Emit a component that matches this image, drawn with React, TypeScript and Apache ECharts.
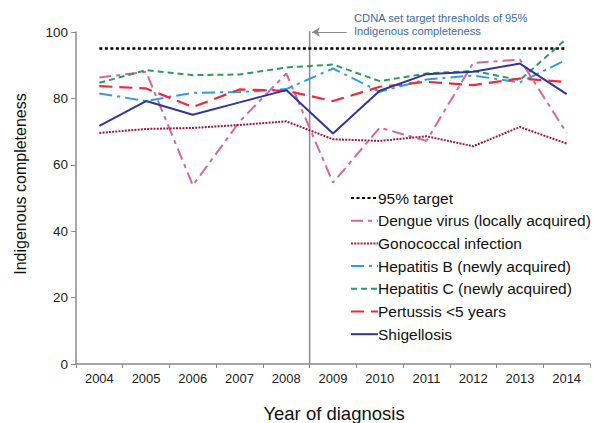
import React, { useEffect, useRef } from "react";
import * as echarts from "echarts";

const years = ["2004", "2005", "2006", "2007", "2008", "2009", "2010", "2011", "2012", "2013", "2014"];
const target = [95, 95, 95, 95, 95, 95, 95, 95, 95, 95, 95];
const dengue = [86.3, 88, 53.8, 73, 87.5, 54.6, 71.2, 67.2, 90.7, 91.7, 69.6];
const gonococcal = [69.6, 70.8, 71.1, 72, 73.1, 67.7, 67.2, 68.6, 65.6, 71.4, 66.4];
const hepB = [81.5, 79.2, 81.7, 81.9, 82.8, 89, 82, 85.7, 86.9, 84.8, 91.7];
const hepC = [84.7, 88.5, 87, 87.2, 89.3, 90.2, 85.2, 87.5, 88.3, 85.5, 98];
const pertussis = [83.7, 83, 77.4, 82.7, 82.3, 79.2, 83.5, 85, 84, 86, 84.9];
const shigellosis = [71.7, 79.2, 75.1, 78.8, 82.5, 69.4, 82.3, 87.3, 88, 90.5, 81.3];
const yTicks = { min: 0, max: 100, interval: 20 };
const dividerIndex = 4.5;
const arrowStart = 5.29;
const arrowY = 100;
const annotation = ["CDNA set target thresholds of 95%", "Indigenous completeness"];

const FONT = "'Liberation Sans', Arial, sans-serif";

export default function App() {
  const ref = useRef<HTMLDivElement>(null);
  useEffect(() => {
    if (!ref.current) return;
    const chart = echarts.init(ref.current, undefined, { renderer: "svg" });
    const mk = (name: string, data: number[], color: string, type: any, width = 2) => ({
      name,
      type: "line",
      data,
      symbol: "none",
      xAxisIndex: 0,
      yAxisIndex: 0,
      lineStyle: { color, type, width },
      itemStyle: { color },
      z: 3,
    });
    chart.setOption({
      animation: false,
      textStyle: { fontFamily: FONT },
      grid: { left: 76, right: 6, top: 32, bottom: 59, containLabel: false },
      xAxis: [
        {
          type: "category",
          data: years,
          boundaryGap: true,
          axisLine: { lineStyle: { color: "#8a8a8a", width: 1.5 } },
          axisTick: { show: true, length: 4, lineStyle: { color: "#8a8a8a" } },
          axisLabel: { color: "#222", fontSize: 13, margin: 8, fontFamily: FONT, interval: 0 },
          splitLine: { show: false },
        },
        {
          type: "value",
          min: -0.5,
          max: 10.5,
          show: false,
          axisLine: { onZero: false },
        },
      ],
      yAxis: {
        type: "value",
        min: yTicks.min,
        max: yTicks.max,
        interval: yTicks.interval,
        axisLine: { show: true, onZero: false, lineStyle: { color: "#8a8a8a", width: 1.5 } },
        axisTick: { show: true, length: 5, lineStyle: { color: "#8a8a8a" } },
        axisLabel: { color: "#222", fontSize: 13.5, margin: 8, fontFamily: FONT },
        splitLine: { show: false },
      },
      legend: {
        orient: "vertical",
        left: 345,
        top: 185,
        itemWidth: 27,
        itemHeight: 14,
        itemGap: 6.7,
        itemStyle: { opacity: 0 },
        textStyle: {
          fontSize: 15.5,
          lineHeight: 16,
          color: "#111",
          fontFamily: FONT,
          padding: [0, 0, 0, -5],
        },
        data: [
          "95% target",
          "Dengue virus (locally acquired)",
          "Gonococcal infection",
          "Hepatitis B (newly acquired)",
          "Hepatitis C (newly acquired)",
          "Pertussis <5 years",
          "Shigellosis",
        ],
      },
      graphic: [
        {
          type: "text",
          left: 354,
          top: 11,
          style: {
            text: annotation.join("\n"),
            fill: "#3e69ae",
            font: `11.2px ${FONT}`,
            lineHeight: 13,
          },
        },
        {
          type: "text",
          x: 20,
          y: 184,
          rotation: Math.PI / 2,
          style: {
            text: "Indigenous completeness",
            fill: "#111",
            font: `16px ${FONT}`,
            align: "center",
            verticalAlign: "middle",
          },
        },
        {
          type: "text",
          x: 334,
          y: 413.5,
          style: {
            text: "Year of diagnosis",
            fill: "#111",
            font: `18.5px ${FONT}`,
            align: "center",
            verticalAlign: "middle",
          },
        },
      ],
      series: [
        {
          name: "divider",
          type: "line",
          xAxisIndex: 1,
          yAxisIndex: 0,
          data: [
            [dividerIndex, 101.2],
            [dividerIndex, 0],
          ],
          symbol: "none",
          lineStyle: { color: "#8a8a8a", width: 1.5 },
          z: 1,
          markLine: {
            silent: true,
            symbol: ["none", "arrow"],
            symbolSize: [7, 8],
            label: { show: false },
            lineStyle: { color: "#8a8a8a", width: 1, type: "solid" },
            data: [[{ coord: [arrowStart, arrowY] }, { coord: [dividerIndex + 0.05, arrowY] }]],
          },
        },
        mk("95% target", target, "#000000", [3, 2.5], 2.5),
        mk("Dengue virus (locally acquired)", dengue, "#d5669f", [12, 5, 4, 5], 2),
        mk("Gonococcal infection", gonococcal, "#9a1d3c", [2, 1.2], 2),
        mk("Hepatitis B (newly acquired)", hepB, "#2f9edb", [13, 5, 3, 5], 2),
        mk("Hepatitis C (newly acquired)", hepC, "#2f9a5b", [6, 4], 2),
        mk("Pertussis <5 years", pertussis, "#ee2a3c", [13, 7], 2.2),
        mk("Shigellosis", shigellosis, "#34349a", "solid", 2),
      ],
    });
    return () => chart.dispose();
  }, []);
  return <div ref={ref} style={{ width: 596, height: 423, position: "absolute", left: 0, top: 0 }} />;
}
